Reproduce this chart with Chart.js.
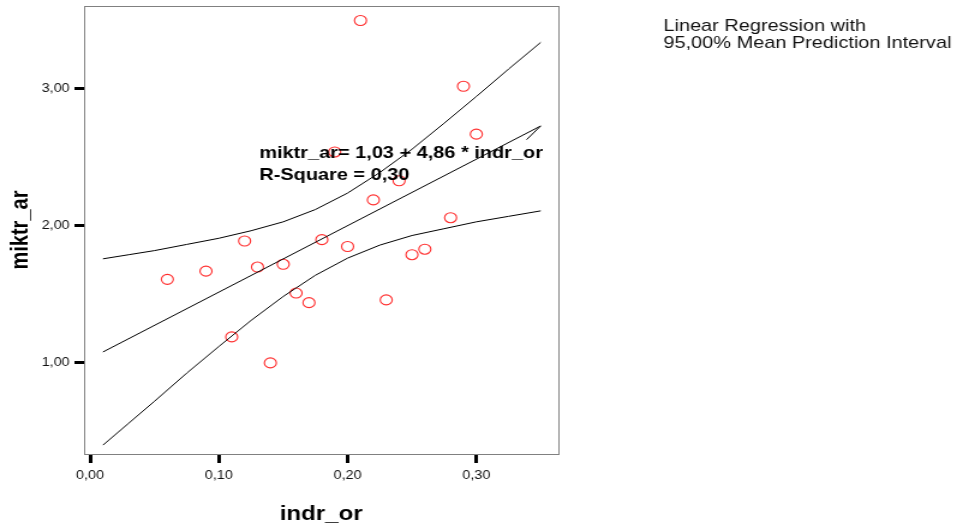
<!DOCTYPE html>
<html>
<head>
<meta charset="utf-8">
<script src="https://cdn.jsdelivr.net/npm/chart.js@4"></script>
<style>
html,body{margin:0;padding:0;background:#fff;overflow:hidden;}
#c{display:block;}
</style>
</head>
<body>
<canvas id="c" width="797" height="531" style="width:957px;height:531px;"></canvas>
<script>
// Observed data
const indr_or = [0.06,0.09,0.11,0.12,0.13,0.14,0.15,0.16,0.17,0.18,0.19,0.20,0.21,0.22,0.23,0.24,0.25,0.26,0.28,0.29,0.30];
const miktr_ar = [1.61,1.67,1.19,1.89,1.70,1.00,1.72,1.51,1.44,1.90,2.54,1.85,3.50,2.19,1.46,2.33,1.79,1.83,2.06,3.02,2.67];

// Fit line (incl. the small hook at its end)
const fitX = [0.01,0.35,0.339];
const fitY = [1.08,2.73,2.63];

// 95% mean prediction interval
const ciX     = [0.01,0.03,0.05,0.075,0.10,0.125,0.15,0.175,0.20,0.225,0.25,0.275,0.30,0.325,0.35];
const ciUpper = [1.76,1.79,1.82,1.865,1.91,1.965,2.03,2.12,2.24,2.39,2.56,2.75,2.945,3.145,3.34];
const ciLower = [0.40,0.56,0.72,0.925,1.12,1.31,1.485,1.64,1.765,1.86,1.93,1.98,2.03,2.07,2.11];

// Tick labels
const xTicks = [0,0.1,0.2,0.3];
const yTicks = [1,2,3];

const xTitle = 'indr_or';
const yTitle = 'miktr_ar';
const eqLines = ['miktr_ar= 1,03 + 4,86 * indr_or','R-Square = 0,30'];
const legendLines = ['Linear Regression with','95,00% Mean Prediction Interval'];

const FONT = '"Liberation Sans", Arial, sans-serif';
const pts = (xs, ys) => xs.map((x,i)=>({x:x, y:ys[i]}));
const fmt = v => Number(v).toFixed(2).replace('.', ',');

const textPlugin = {
  id: 'texts',
  afterDraw(chart){
    const ctx = chart.ctx, a = chart.chartArea;
    ctx.save();
    ctx.strokeStyle = '#808080';
    ctx.lineWidth = 1;
    ctx.strokeRect(Math.round(a.left)+0.5, Math.round(a.top)+0.5, Math.round(a.right-a.left), Math.round(a.bottom-a.top));
    ctx.fillStyle = '#000';
    ctx.textBaseline = 'alphabetic';
    ctx.textAlign = 'left';
    ctx.font = 'bold 16.6px ' + FONT;
    ctx.fillText(eqLines[0], 216, 158);
    ctx.fillText(eqLines[1], 216, 180);
    ctx.font = '16.6px ' + FONT;
    ctx.fillStyle = '#111';
    ctx.fillText(legendLines[0], 552.5, 31);
    ctx.fillText(legendLines[1], 552.5, 48);
    ctx.restore();
  }
};

new Chart(document.getElementById('c'), {
  type: 'scatter',
  data: {
    datasets: [
      { data: pts(ciX, ciUpper), showLine: true, borderColor: '#000', borderWidth: 1, pointRadius: 0, fill: false },
      { data: pts(ciX, ciLower), showLine: true, borderColor: '#000', borderWidth: 1, pointRadius: 0, fill: false },
      { data: pts(fitX, fitY), showLine: true, borderColor: '#000', borderWidth: 1, pointRadius: 0, fill: false },
      { data: pts(indr_or, miktr_ar), showLine: false, pointRadius: 5, pointStyle: 'circle',
        pointBorderColor: 'rgb(255,45,45)', pointBackgroundColor: 'rgba(0,0,0,0)', pointBorderWidth: 1.1 }
    ]
  },
  options: {
    responsive: false,
    devicePixelRatio: 1,
    animation: false,
    layout: { padding: { top: 5, right: 332, left: 0, bottom: 0 } },
    plugins: { legend: { display: false }, tooltip: { enabled: false } },
    scales: {
      x: {
        type: 'linear', min: -0.0047, max: 0.3637,
        afterBuildTicks: s => { s.ticks = xTicks.map(v=>({value:v})); },
        afterFit: s => { s.height = 77; s.paddingLeft = 0; s.paddingRight = 0; },
        grid: { display: true, drawOnChartArea: false, drawTicks: true, tickLength: 9, tickWidth: 3, tickColor: '#000' },
        border: { display: false },
        ticks: { callback: v => fmt(v), color: '#111', font: { family: FONT, size: 12 }, padding: 5, maxRotation: 0, autoSkip: false },
        title: { display: true, text: xTitle, color: '#000', font: { family: FONT, size: 20, weight: 'bold' }, padding: { top: 0, bottom: 5 } }
      },
      y: {
        type: 'linear', min: 0.335, max: 3.605,
        afterBuildTicks: s => { s.ticks = yTicks.map(v=>({value:v})); },
        afterFit: s => { s.width = 70; s.paddingTop = 0; s.paddingBottom = 0; },
        grid: { display: true, drawOnChartArea: false, drawTicks: true, tickLength: 8, tickWidth: 3, tickColor: '#000' },
        border: { display: false },
        ticks: { callback: v => fmt(v), color: '#111', font: { family: FONT, size: 12 }, padding: 4, autoSkip: false },
        title: { display: true, text: yTitle, color: '#000', font: { family: FONT, size: 20, weight: 'bold' }, padding: { top: 5, bottom: 0 } }
      }
    }
  },
  plugins: [textPlugin]
});
</script>
</body>
</html>
